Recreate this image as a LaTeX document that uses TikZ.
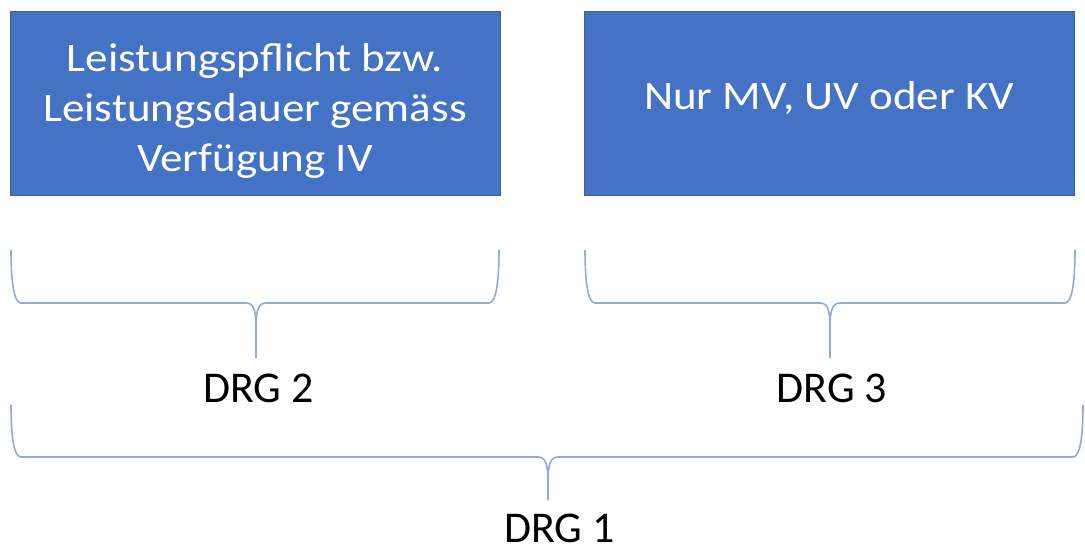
\documentclass[tikz,border=0pt]{standalone}
\usepackage{fontspec}
\setmainfont{Carlito}
\newfontfamily\feldschrift[FakeStretch=1.115]{Carlito}
\definecolor{boxblau}{HTML}{4472C4}
\definecolor{klammerblau}{HTML}{8FAADC}
\tikzset{
  feld/.style={rectangle, fill=boxblau, draw=boxblau!85!black, line width=0.4pt,
    minimum width=9.8cm, minimum height=3.68cm},
  feldtext/.style={text=white, align=center, inner sep=0pt,
    font=\feldschrift\fontsize{23}{28.5}\selectfont},
  drglabel/.style={anchor=base, inner sep=0pt, font=\fontsize{25}{30}\selectfont},
  klammerlinie/.style={draw=klammerblau, line width=0.9pt}
}
% links, rechts, spitze, oben, balken, unten
\newcommand{\klammer}[6]{%
\draw[klammerlinie] (#1,#4) .. controls (#1,#4+32) and (#1+3,#5) .. (#1+10,#5) -- (#3-10,#5) .. controls (#3-3,#5) and (#3,#5+6) .. (#3,#5+24) -- (#3,#6);
\draw[klammerlinie] (#2,#4) .. controls (#2,#4+32) and (#2-3,#5) .. (#2-10,#5) -- (#3+10,#5) .. controls (#3+3,#5) and (#3,#5+6) .. (#3,#5+24) -- (#3,#6);
}
\begin{document}
\begin{tikzpicture}[x=0.02cm, y=-0.02cm]
\useasboundingbox (0,0) rectangle (1085,547);
\node[feld] (verfuegung) at (255,103) {};
\node[feldtext] (verfuegungtext) at (255,111) {Leistungspflicht bzw.\\Leistungsdauer gemäss\\Verfügung IV};
\node[feld] (nurmv) at (829.5,103) {};
\node[feldtext] (nurmvtext) at (829,98) {Nur MV, UV oder KV};
\klammer{11}{499}{256}{250}{303}{358}
\klammer{585}{1075}{830}{250}{303}{358}
\klammer{11}{1083}{548}{405}{457}{500}
\node[drglabel] (drg2) at (258.5,402) {DRG 2};
\node[drglabel] (drg3) at (832,402) {DRG 3};
\node[drglabel] (drg1) at (559.5,542) {DRG 1};
\end{tikzpicture}
\end{document}
